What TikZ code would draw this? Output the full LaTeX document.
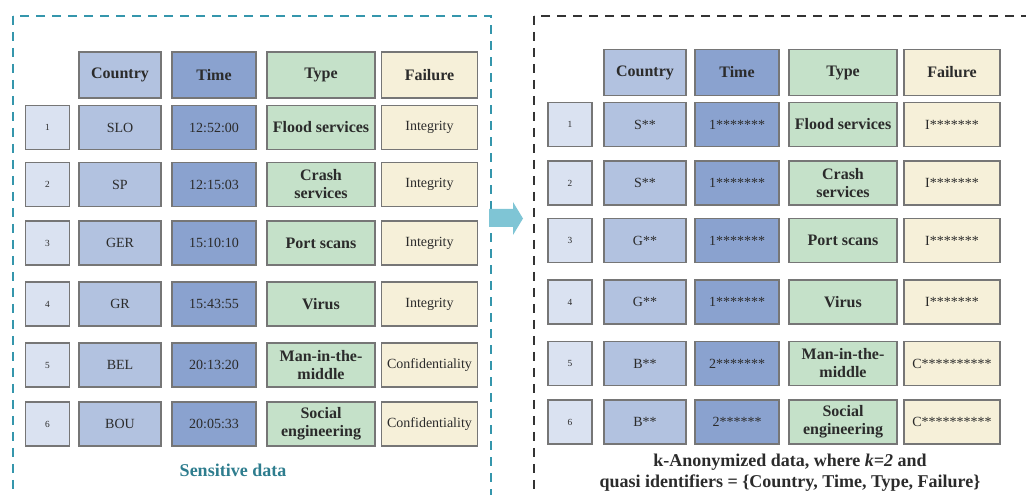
\documentclass[tikz,border=0pt]{standalone}
\usepackage{fontspec}
\setmainfont{Liberation Serif}
\definecolor{numfill}{HTML}{DAE2F1}
\definecolor{ctryfill}{HTML}{B2C2E0}
\definecolor{timefill}{HTML}{8AA2CF}
\definecolor{typefill}{HTML}{C5E1C9}
\definecolor{failfill}{HTML}{F6F0D9}
\definecolor{cellline}{HTML}{767676}
\definecolor{celltext}{HTML}{2B2B2B}
\definecolor{tealdash}{HTML}{3596AC}
\definecolor{tealtext}{HTML}{2E7D8E}
\definecolor{arrowfill}{HTML}{7FC5D5}
\tikzset{
  cell/.style={draw=cellline, line width=1pt, inner sep=0pt, align=center,
    text=celltext, minimum height=33pt, font=\fontsize{10.5}{12}\selectfont},
  hdr/.style={cell, minimum height=34.5pt, font=\fontsize{12}{13.5}\selectfont\bfseries},
  numcell/.style={cell, fill=numfill, minimum width=33pt, font=\fontsize{7}{8}\selectfont},
  ctrycell/.style={cell, fill=ctryfill, minimum width=61.5pt},
  timecell/.style={cell, fill=timefill, minimum width=63pt},
  typecell/.style={cell, fill=typefill, minimum width=81pt,
    font=\fontsize{12}{13.5}\selectfont\bfseries},
  failcell/.style={cell, fill=failfill, minimum width=72pt},
  frame/.style={line width=1.5pt, dash pattern=on 7pt off 5pt},
  caption/.style={font=\fontsize{13.5}{16}\selectfont\bfseries, align=center},
}
\begin{document}
\begin{tikzpicture}[x=0.75pt, y=-0.75pt]
\useasboundingbox (0,0) rectangle (1026,495);

% dashed frames of the two panels (they run past the page edge)
\begin{scope}
  \clip (0,0) rectangle (1026,495);
  \draw[frame, tealdash] (13,16) rectangle (491,530);
  \draw[frame, black!80] (534,16) rectangle (1060,530);
\end{scope}

% header rows
\node[ctrycell, hdr] (Lhc) at (120,75) {Country};
\node[timecell, hdr] (Lht) at (214,75) {Time};
\node[typecell, hdr] (Lhy) at (321,75) {Type};
\node[failcell, hdr] (Lhf) at (429.5,75) {Failure};

\node[ctrycell, hdr] (Rhc) at (645,72.5) {Country};
\node[timecell, hdr] (Rht) at (737,72.5) {Time};
\node[typecell, hdr] (Rhy) at (843,72.5) {Type};
\node[failcell, hdr] (Rhf) at (952,72.5) {Failure};

% data rows: original values on the left, generalised values on the right
\foreach \i/\ya/\yb/\ca/\ta/\tya/\fa/\cb/\tb/\fb in {
  1/127.5/124.5/SLO/12:52:00/{Flood services}/Integrity/S**/1*******/I*******,
  2/184.5/183/SP/12:15:03/{Crash\\services}/Integrity/S**/1*******/I*******,
  3/243/240.5/GER/15:10:10/{Port scans}/Integrity/G**/1*******/I*******,
  4/304/302/GR/15:43:55/{Virus}/Integrity/G**/1*******/I*******,
  5/365/363.5/BEL/20:13:20/{Man-in-the-\\middle}/Confidentiality/B**/2*******/C**********,
  6/424/422/BOU/20:05:33/{Social\\engineering}/Confidentiality/B**/2******/C**********}
{
  \node[numcell]  (L\i n) at (47.5,\ya) {\i};
  \node[ctrycell] (L\i c) at (120,\ya) {\ca};
  \node[timecell] (L\i t) at (214,\ya) {\ta};
  \node[typecell] (L\i y) at (321,\ya) {\tya};
  \node[failcell] (L\i f) at (429.5,\ya) {\fa};

  \node[numcell]  (R\i n) at (570,\yb) {\i};
  \node[ctrycell] (R\i c) at (645,\yb) {\cb};
  \node[timecell] (R\i t) at (737,\yb) {\tb};
  \node[typecell] (R\i y) at (843,\yb) {\tya};
  \node[failcell] (R\i f) at (952,\yb) {\fb};
}

% panel captions
\node[caption, text=tealtext] (lcap) at (233,470) {Sensitive data};
\node[caption, text=celltext] (rcap) at (790,472.5)
  {k-Anonymized data, where \textit{k=2} and\\quasi identifiers = \{Country, Time, Type, Failure\}};

% block arrow between the panels
\fill[arrowfill] (489,209) -- (513,209) -- (513,202) -- (523,218.5)
  -- (513,235) -- (513,227) -- (489,227) -- cycle;
\end{tikzpicture}
\end{document}
